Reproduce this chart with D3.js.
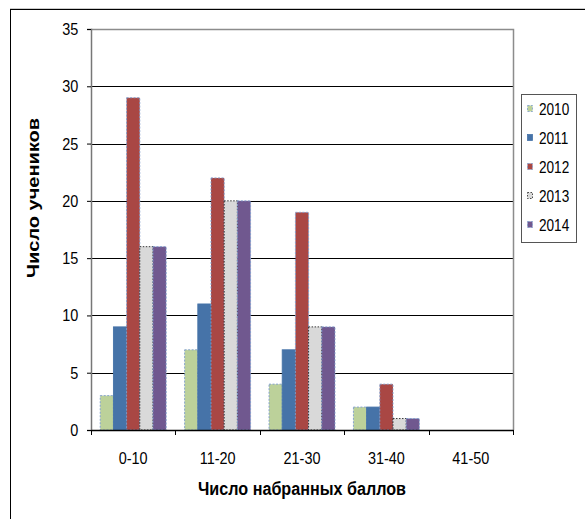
<!DOCTYPE html>
<html>
<head>
<meta charset="utf-8">
<script src="https://cdn.jsdelivr.net/npm/d3@7"></script>
<style>
  html, body { margin: 0; padding: 0; background: #fff; }
  svg { display: block; font-family: "Liberation Sans", Arial, sans-serif; }
</style>
</head>
<body>
<svg id="chart" width="585" height="519"></svg>
<script>
// Score bands (x categories)
const categories = ["0-10", "11-20", "21-30", "31-40", "41-50"];
// Years (series)
const years = ["2010", "2011", "2012", "2013", "2014"];
// Number of students per score band, one array per year
const v2010 = [3, 7, 4, 2, 0];
const v2011 = [9, 11, 7, 2, 0];
const v2012 = [29, 22, 19, 4, 0];
const v2013 = [16, 20, 9, 1, 0];
const v2014 = [16, 20, 9, 1, 0];
const yTicks = [0, 5, 10, 15, 20, 25, 30, 35];

const seriesValues = [v2010, v2011, v2012, v2013, v2014];
const fills = ["#bcd19a", "#4673a8", "#a94744", "#d9d9d9", "#70588f"];
const strokes = ["#7d9ccd", "#4673a8", "#7d9ccd", "#222", "#7d9ccd"];
const dashes = ["2,1.5", null, "2,1.5", "1.5,1.5", "2,1.5"];

// Text is drawn slightly condensed horizontally
const SX = 0.85;

const svg = d3.select("#chart");
const m = { left: 91, right: 513, top: 29, bottom: 430 };

// Outer chart frame (extends past the right and bottom edges)
svg.append("line").attr("x1", 10).attr("x2", 585).attr("y1", 8.5).attr("y2", 8.5)
  .attr("stroke", "#ccc").attr("stroke-width", 1);
svg.append("line").attr("x1", 10).attr("x2", 585).attr("y1", 9.5).attr("y2", 9.5)
  .attr("stroke", "#000").attr("stroke-width", 1);
svg.append("line").attr("x1", 10.5).attr("x2", 10.5).attr("y1", 9).attr("y2", 519)
  .attr("stroke", "#000").attr("stroke-width", 1);

const x = d3.scaleBand().domain(categories).range([m.left, m.right]);
const y = d3.scaleLinear().domain([0, 35]).range([m.bottom, m.top]);
const xs = d3.scaleBand().domain(years).range([0, x.bandwidth()]).paddingOuter(0.7);

// Horizontal gridlines
svg.append("g").selectAll("line").data(yTicks.filter(d => d > 0 && d < 35)).join("line")
  .attr("x1", m.left).attr("x2", m.right)
  .attr("y1", d => Math.round(y(d)) + 0.5).attr("y2", d => Math.round(y(d)) + 0.5)
  .attr("stroke", "#000").attr("stroke-width", 1);

// Plot area border (top and right)
svg.append("path")
  .attr("d", `M${m.left},${m.top + 0.5}H${m.right + 0.5}V${m.bottom}`)
  .attr("fill", "none").attr("stroke", "#8c8c8c").attr("stroke-width", 1.5);

// Bars
years.forEach((yr, si) => {
  svg.append("g").selectAll("rect").data(seriesValues[si]).join("rect")
    .attr("x", (d, i) => x(categories[i]) + xs(yr))
    .attr("width", xs.bandwidth())
    .attr("y", d => y(d))
    .attr("height", d => y(0) - y(d))
    .attr("fill", fills[si])
    .attr("stroke", d => d > 0 ? strokes[si] : "none")
    .attr("stroke-width", 0.9)
    .attr("stroke-dasharray", dashes[si]);
});

const labelFont = "Liberation Sans, Arial, sans-serif";

// Y axis
const yAxis = svg.append("g").attr("transform", `translate(${m.left},0)`)
  .call(d3.axisLeft(y).tickValues(yTicks).tickSize(4).tickPadding(11));
yAxis.select(".domain").attr("stroke", "#777").attr("stroke-width", 1.5);
yAxis.selectAll(".tick line").attr("stroke", "#000");
yAxis.selectAll(".tick text").attr("font-size", 17).attr("fill", "#000")
  .attr("font-family", labelFont).attr("transform", `scale(${SX},1)`);

// X axis
const xAxis = svg.append("g").attr("transform", `translate(0,${m.bottom})`)
  .call(d3.axisBottom(x).tickSize(0).tickPadding(22));
xAxis.select(".domain").attr("stroke", "#000").attr("stroke-width", 1.5);
xAxis.selectAll(".tick text").attr("font-size", 17).attr("fill", "#000")
  .attr("font-family", labelFont).attr("transform", `scale(${SX},1)`);
// Category boundary ticks
const bounds = categories.map(c => x(c)).concat([m.right]);
svg.append("g").selectAll("line").data(bounds).join("line")
  .attr("x1", d => Math.round(d) + 0.5).attr("x2", d => Math.round(d) + 0.5)
  .attr("y1", m.bottom).attr("y2", m.bottom + 5)
  .attr("stroke", "#000").attr("stroke-width", 1);

// Axis titles
svg.append("text")
  .attr("transform", `translate(${(m.left + m.right) / 2},495) scale(${SX},1)`)
  .attr("text-anchor", "middle").attr("font-size", 19).attr("font-weight", "bold")
  .text("Число набранных баллов");
svg.append("text")
  .attr("transform", `translate(39,198) scale(${SX},1) rotate(-90)`)
  .attr("text-anchor", "middle").attr("font-size", 20).attr("font-weight", "bold")
  .text("Число учеников");

// Legend
const lg = svg.append("g");
lg.append("rect").attr("x", 521.5).attr("y", 94.5).attr("width", 55).attr("height", 148)
  .attr("fill", "#fff").attr("stroke", "#555").attr("stroke-width", 1);
const ly = d3.scalePoint().domain(years).range([109, 225]);
years.forEach((yr, si) => {
  lg.append("rect").attr("x", 527.5).attr("y", ly(yr) - 3.5).attr("width", 5).attr("height", 6)
    .attr("fill", fills[si]).attr("stroke", strokes[si]).attr("stroke-width", 0.8)
    .attr("stroke-dasharray", dashes[si]);
  lg.append("text")
    .attr("transform", `translate(539,${ly(yr) + 6}) scale(${SX},1)`)
    .attr("font-size", 16)
    .text(yr);
});
</script>
</body>
</html>
